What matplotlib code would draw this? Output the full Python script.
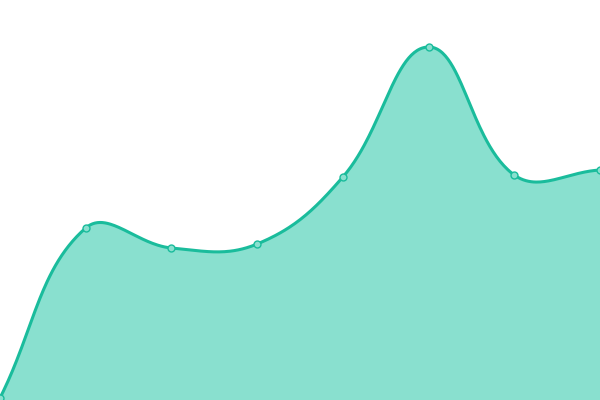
import numpy as np
import matplotlib
matplotlib.use("Agg")
import matplotlib.pyplot as plt

categories = list(range(8))
values = [2, 172, 152, 156, 223, 353, 225, 230]

LINE = "#1abc9c"
FILL = "#89e0cf"
TENSION = 0.4
W, H = 600, 400
YMAX = 400


def spline_curve(x, y, t=TENSION, n=60):
    # Chart.js-style bezier control points (distances in pixel space)
    x = np.asarray(x, float)
    y = np.asarray(y, float)
    sx = W / (x[-1] - x[0])
    sy = H / YMAX
    m = len(x)
    cps = []
    for i in range(m):
        p = i - 1 if i > 0 else i
        q = i + 1 if i < m - 1 else i
        d01 = np.hypot((x[i] - x[p]) * sx, (y[i] - y[p]) * sy)
        d12 = np.hypot((x[q] - x[i]) * sx, (y[q] - y[i]) * sy)
        tot = d01 + d12
        s01 = d01 / tot if tot else 0
        s12 = d12 / tot if tot else 0
        fa, fb = t * s01, t * s12
        prev_cp = (x[i] - fa * (x[q] - x[p]), y[i] - fa * (y[q] - y[p]))
        next_cp = (x[i] + fb * (x[q] - x[p]), y[i] + fb * (y[q] - y[p]))
        cps.append((prev_cp, next_cp))
    xs, ys = [], []
    u = np.linspace(0, 1, n)
    for i in range(m - 1):
        P0 = np.array([x[i], y[i]])
        P1 = np.array(cps[i][1])
        P2 = np.array(cps[i + 1][0])
        P3 = np.array([x[i + 1], y[i + 1]])
        B = ((1 - u) ** 3)[:, None] * P0 + (3 * (1 - u) ** 2 * u)[:, None] * P1 \
            + (3 * (1 - u) * u ** 2)[:, None] * P2 + (u ** 3)[:, None] * P3
        xs.extend(B[:, 0])
        ys.extend(B[:, 1])
    return np.array(xs), np.array(ys)


fig = plt.figure(figsize=(6, 4), dpi=100)
ax = fig.add_axes([0, 0, 1, 1])
xs, ys = spline_curve(categories, values)
ax.fill_between(xs, ys, 0, color=FILL, linewidth=0)
ax.plot(xs, ys, color=LINE, linewidth=2.2, solid_capstyle="round")
ax.plot(categories, values, linestyle="none", marker="o", markersize=5,
        markerfacecolor=FILL, markeredgecolor=LINE, markeredgewidth=1, clip_on=False)
ax.set_xlim(0, 7)
ax.set_ylim(0, YMAX)
ax.axis("off")
fig.savefig("out.png", dpi=100)
